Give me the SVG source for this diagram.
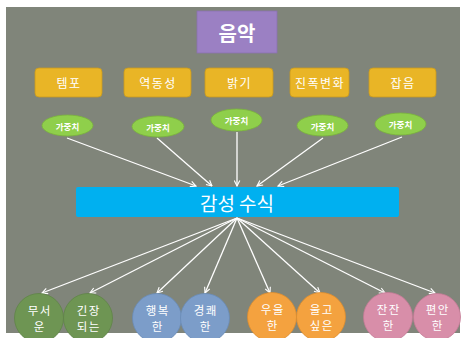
<svg xmlns="http://www.w3.org/2000/svg" width="462" height="338" viewBox="0 0 462 338">
<defs>
<marker id="ah" viewBox="0 0 10 10" refX="9" refY="5" markerWidth="7" markerHeight="7" markerUnits="userSpaceOnUse" orient="auto">
<path d="M1,1 L9,5 L1,9" fill="none" stroke="#ffffff" stroke-width="1.6"/>
</marker>
<style>
text{font-family:"Noto Sans CJK KR","Noto Sans",sans-serif;fill:#ffffff;text-anchor:middle;dominant-baseline:central}
.yb{fill:#e9b526;stroke:#c99a1e;stroke-width:0.8}
.wt{fill:#8fcf4b;stroke:#7ab23c;stroke-width:0.8}
.c{stroke:#ffffff;stroke-width:1.3;fill:none;marker-end:url(#ah)}
.em{stroke-width:0.8}
.g{fill:#6e9553;stroke:#5f8447}
.b{fill:#7c9dc9;stroke:#6a8bb6}
.o{fill:#f4a23f;stroke:#dc8d2f}
.p{fill:#d88ea9;stroke:#c47b96}
.ty{font-size:12px;letter-spacing:1.5px}
.tw{font-size:8.5px;font-weight:bold}
.tc{font-size:11.5px;letter-spacing:1.5px}
</style>
</defs>
<rect x="0" y="0" width="462" height="338" fill="#ffffff"/>
<rect x="6" y="7" width="454" height="326" fill="#80857a"/>
<g id="connectors">
<line class="c" x1="67" y1="138" x2="196" y2="186"/>
<line class="c" x1="157" y1="138" x2="212" y2="186"/>
<line class="c" x1="237" y1="132" x2="237" y2="186"/>
<line class="c" x1="323" y1="138" x2="257" y2="186"/>
<line class="c" x1="402" y1="137" x2="278" y2="186"/>
<line class="c" x1="237" y1="218" x2="42" y2="293"/>
<line class="c" x1="237" y1="218" x2="90" y2="293"/>
<line class="c" x1="237" y1="218" x2="157" y2="293"/>
<line class="c" x1="237" y1="218" x2="205" y2="293"/>
<line class="c" x1="237" y1="218" x2="270" y2="293"/>
<line class="c" x1="237" y1="218" x2="320" y2="293"/>
<line class="c" x1="237" y1="218" x2="385" y2="293"/>
<line class="c" x1="237" y1="218" x2="435" y2="293"/>
</g>
<g id="music">
<rect x="197" y="11" width="80" height="42" fill="#9b80c3" stroke="#8a70b0" stroke-width="0.8"/>
<text x="237" y="32" font-size="20" font-weight="bold">음악</text>
</g>
<g id="tempo"><rect class="yb" x="35" y="68" width="67" height="29" rx="4"/><text class="ty" x="69" y="82.5">템포</text></g>
<g id="dynamics"><rect class="yb" x="124" y="68" width="67" height="29" rx="4"/><text class="ty" x="158" y="82.5">역동성</text></g>
<g id="brightness"><rect class="yb" x="205" y="68" width="68" height="29" rx="4"/><text class="ty" x="239.5" y="82.5">밝기</text></g>
<g id="amplitude"><rect class="yb" x="290" y="68" width="59" height="29" rx="4"/><text class="ty" x="320" y="82.5">진폭변화</text></g>
<g id="noise"><rect class="yb" x="369" y="68" width="67" height="29" rx="4"/><text class="ty" x="403" y="82.5">잡음</text></g>
<g id="w1"><ellipse class="wt" cx="67.5" cy="125.5" rx="25.5" ry="10.5"/><text class="tw" x="67.5" y="125.5">가중치</text></g>
<g id="w2"><ellipse class="wt" cx="158" cy="126.5" rx="26" ry="10.5"/><text class="tw" x="158" y="126.5">가중치</text></g>
<g id="w3"><ellipse class="wt" cx="236.5" cy="120" rx="25.5" ry="11"/><text class="tw" x="236.5" y="120">가중치</text></g>
<g id="w4"><ellipse class="wt" cx="322.5" cy="125.5" rx="25.5" ry="10.5"/><text class="tw" x="322.5" y="125.5">가중치</text></g>
<g id="w5"><ellipse class="wt" cx="400.5" cy="124" rx="25.5" ry="11"/><text class="tw" x="400.5" y="124">가중치</text></g>
<g id="formula">
<rect x="76" y="187" width="323" height="30" rx="2" fill="#00b0f0"/>
<text x="237" y="202" font-size="19">감성 수식</text>
</g>
<g id="e1"><circle class="g em" cx="39" cy="318" r="24.5"/><text class="tc" x="39.75" y="310">무서</text><text class="tc" x="39.75" y="326">운</text></g>
<g id="e2"><circle class="g em" cx="88" cy="318" r="24.5"/><text class="tc" x="88.75" y="310">긴장</text><text class="tc" x="88.75" y="326">되는</text></g>
<g id="e3"><circle class="b em" cx="157" cy="318" r="24.5"/><text class="tc" x="157.75" y="310">행복</text><text class="tc" x="157.75" y="326">한</text></g>
<g id="e4"><circle class="b em" cx="205" cy="318" r="24.5"/><text class="tc" x="205.75" y="310">경쾌</text><text class="tc" x="205.75" y="326">한</text></g>
<g id="e5"><circle class="o em" cx="272" cy="317" r="24.5"/><text class="tc" x="272.75" y="309">우울</text><text class="tc" x="272.75" y="325">한</text></g>
<g id="e6"><circle class="o em" cx="321" cy="317" r="24.5"/><text class="tc" x="321.75" y="309">울고</text><text class="tc" x="321.75" y="325">싶은</text></g>
<g id="e7"><circle class="p em" cx="388" cy="317" r="24.5"/><text class="tc" x="388.75" y="309">잔잔</text><text class="tc" x="388.75" y="325">한</text></g>
<g id="e8"><circle class="p em" cx="437" cy="317" r="23.5"/><text class="tc" x="437.75" y="309">편안</text><text class="tc" x="437.75" y="325">한</text></g>
</svg>
